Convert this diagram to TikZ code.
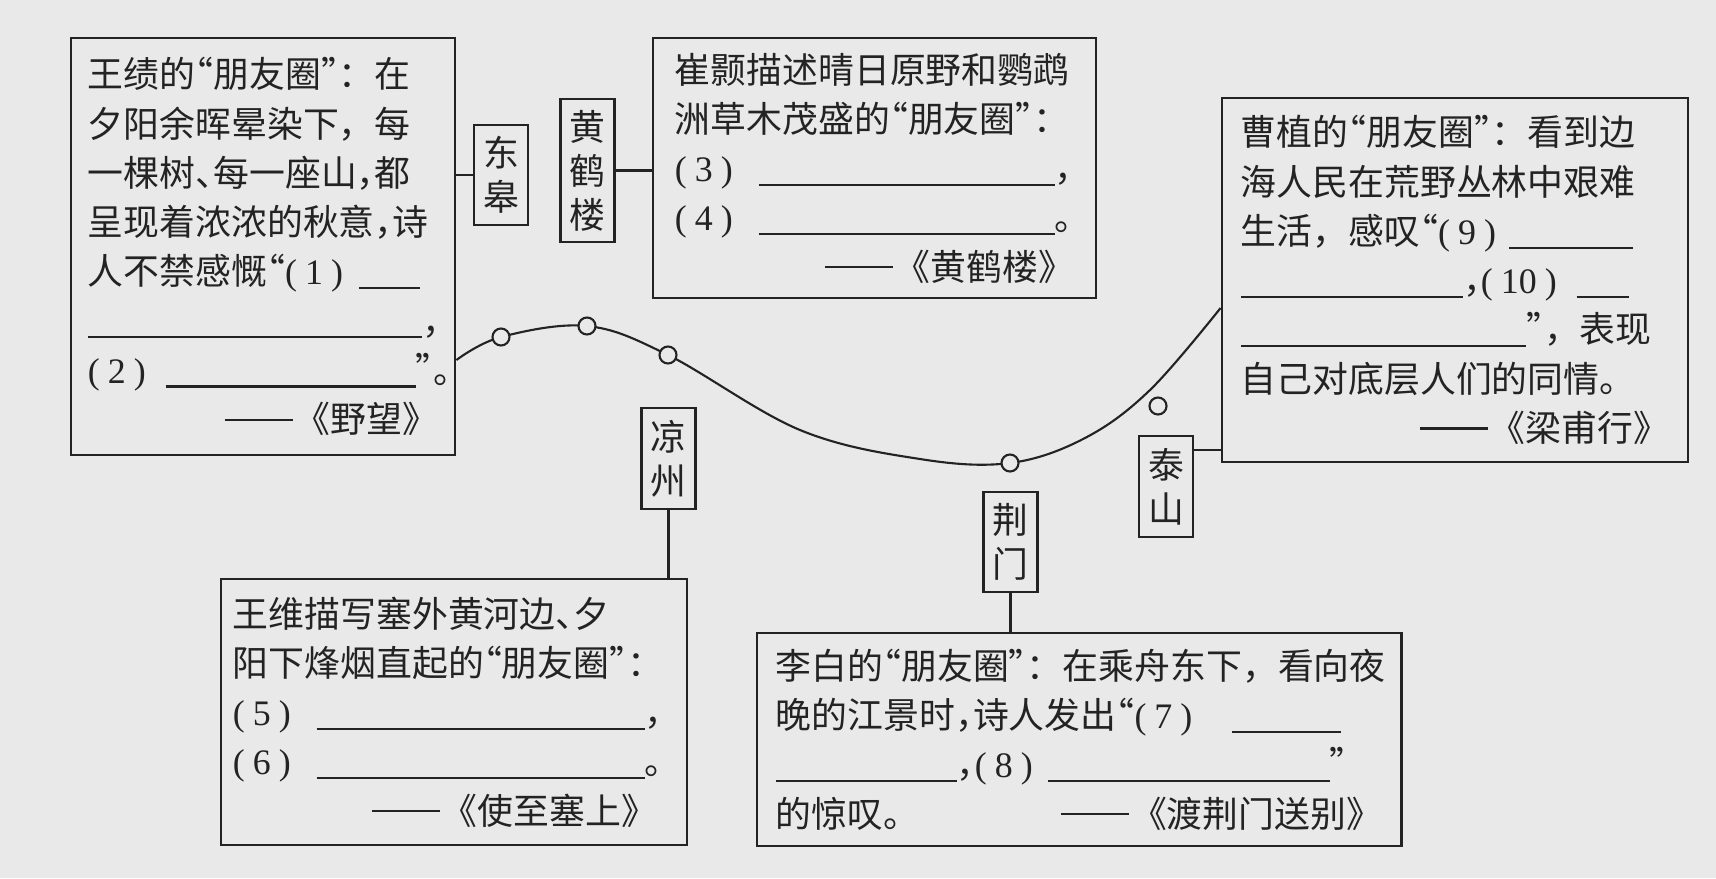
\documentclass[tikz,border=0pt]{standalone}
\usepackage{fontspec}
\newfontfamily\cjk{Noto Sans CJK SC}
\newfontfamily\numfont{Liberation Serif}
\definecolor{paper}{RGB}{233,233,233}
\definecolor{ink}{RGB}{35,35,35}
\newcommand\blank[1]{\rule[-0.12em]{#1}{0.6pt}}
\newcommand\gap[1]{\nobreak\hspace{#1}\nobreak}
\newcommand\qn[1]{\mbox{\numfont(\hspace{0.08cm}#1\hspace{0.08cm})}}
\newcommand\halfp[1]{\makebox[0.5em][l]{#1}}
\newcommand\oq{\makebox[0.5em][r]{“}}
\newcommand\cq{\makebox[0.5em][l]{”}}
\newcommand\dash{\makebox[2em][c]{\rule[0.33em]{1.9em}{0.6pt}}}
\newcommand\tofill{\hskip 0pt plus 1fill\relax}
\tikzset{
  poem/.style={draw, rectangle, align=left, inner sep=0pt, line width=0.75pt,
    font=\cjk\fontsize{10.2}{14}\selectfont},
  place/.style={draw, rectangle, align=center, inner sep=0pt, line width=0.75pt,
    minimum width=0.54cm, font=\cjk\fontsize{10.2}{12.5}\selectfont},
  dot/.style={draw, circle, fill=paper, inner sep=0pt, minimum size=0.17cm}
}
\begin{document}
\begin{tikzpicture}[x=0.01cm,y=-0.01cm,color=ink,line width=0.6pt]
\fill[paper] (0,0) rectangle (1716,878);
\useasboundingbox (0,0) rectangle (1716,878);
% poems
\node[poem, minimum width=3.84cm, minimum height=4.17cm, text width=3.50cm] (yewang) at (263,246.5)
  {王绩的\oq 朋友圈\cq ：在\\
   夕阳余晖晕染下，每\\
   一棵树\halfp{、}每一座山\halfp{，}都\\
   呈现着浓浓的秋意\halfp{，}诗\\
   人不禁感慨\oq\qn{1}\gap{0.16cm}\blank{0.61cm}\\
   \blank{3.34cm}\halfp{，}\\
   \qn{2}\gap{0.2cm}\blank{2.5cm}\cq\halfp{。}\\
   \tofill\dash《野望》};
\node[poem, minimum width=4.43cm, minimum height=2.60cm, text width=3.99cm] (huanghelou) at (874.5,168)
  {崔颢描述晴日原野和鹦鹉\\
   洲草木茂盛的\oq 朋友圈\cq ：\\
   \qn{3}\gap{0.26cm}\blank{2.96cm}\halfp{，}\\
   \qn{4}\gap{0.26cm}\blank{2.96cm}\halfp{。}\\
   \tofill\dash《黄鹤楼》};
\node[poem, minimum width=4.66cm, minimum height=3.64cm, text width=4.28cm] (liangfuxing) at (1455,280)
  {曹植的\oq 朋友圈\cq ：看到边\\
   海人民在荒野丛林中艰难\\
   生活，感叹\oq\qn{9}\gap{0.13cm}\blank{1.24cm}\\
   \blank{2.22cm}\halfp{，}\qn{10}\gap{0.2cm}\blank{0.52cm}\\
   \blank{2.85cm}\cq ，表现\\
   自己对底层人们的同情。\\
   \tofill\dash《梁甫行》};
\node[poem, minimum width=4.66cm, minimum height=2.66cm, text width=4.42cm] (shizhisaishang) at (454,712)
  {王维描写塞外黄河边\halfp{、}夕\\
   阳下烽烟直起的\oq 朋友圈\cq ：\\
   \qn{5}\gap{0.26cm}\blank{3.28cm}\halfp{，}\\
   \qn{6}\gap{0.26cm}\blank{3.28cm}\halfp{。}\\
   \tofill\dash《使至塞上》\hspace*{0.18cm}};
\node[poem, minimum width=6.44cm, minimum height=2.13cm, text width=6.06cm] (dujingmen) at (1079,739.5)
  {李白的\oq 朋友圈\cq ：在乘舟东下，看向夜\\
   晚的江景时\halfp{，}诗人发出\oq\qn{7}\gap{0.4cm}\blank{1.09cm}\\
   \blank{1.81cm}\halfp{，}\qn{8}\gap{0.15cm}\blank{2.82cm}\cq\\
   的惊叹。\tofill\dash《渡荆门送别》};
% places
\node[place, minimum height=1.00cm] (donggao) at (501,175) {东\\皋};
\node[place, minimum height=1.43cm] (hhl) at (587.5,170.5) {黄\\鹤\\楼};
\node[place, minimum height=1.01cm] (liangzhou) at (668.5,458.5) {凉\\州};
\node[place, minimum height=1.00cm] (jingmen) at (1010.5,542) {荆\\门};
\node[place, minimum height=1.01cm] (taishan) at (1166,486.5) {泰\\山};
\draw (yewang.east |- donggao.west) -- (donggao.west);
\draw (hhl.east) -- (hhl.east -| huanghelou.west);
\draw (liangzhou.south) -- (liangzhou.south |- shizhisaishang.north);
\draw (jingmen.south) -- (jingmen.south |- dujingmen.north);
\draw ([yshift=0.365cm]taishan.east) -- ([yshift=0.365cm]taishan.east -| liangfuxing.west);
% route
\coordinate (p0) at (yewang.east |- 0,360);
\coordinate (c1) at (501,337);
\coordinate (c2) at (587,326);
\coordinate (c3) at (668,355);
\coordinate (m1) at (800,430);
\coordinate (m2) at (920,459);
\coordinate (c4) at (1010,463);
\coordinate (m3) at (1085,438);
\coordinate (m4) at (1150,390);
\coordinate (p9) at (liangfuxing.west |- 0,308);
\draw plot[smooth, tension=0.6] coordinates {(p0) (c1) (c2) (c3) (m1) (m2) (c4) (m3) (m4) (p9)};
\node[dot] (d1) at (c1) {};
\node[dot] (d2) at (c2) {};
\node[dot] (d3) at (c3) {};
\node[dot] (d4) at (c4) {};
\node[dot] (d5) at (1158,406) {};
\end{tikzpicture}
\end{document}
